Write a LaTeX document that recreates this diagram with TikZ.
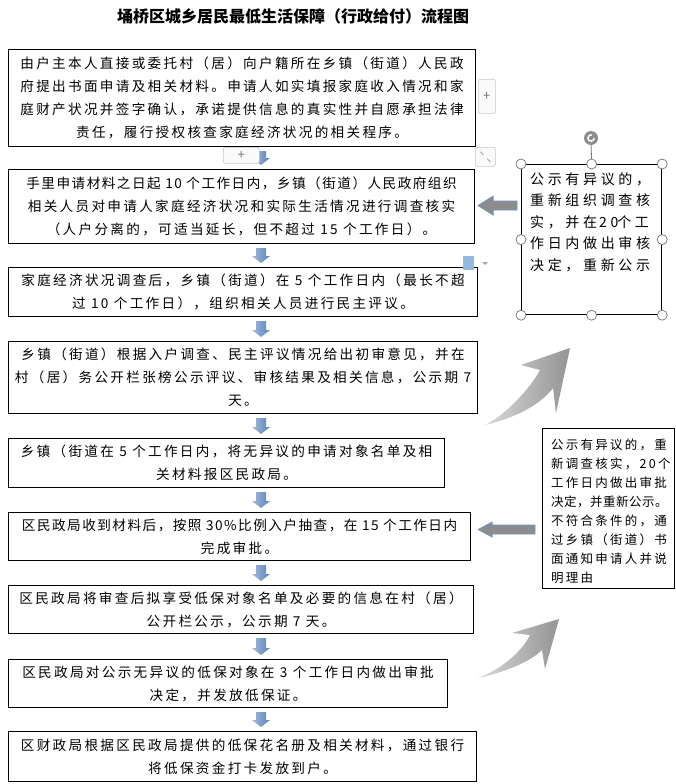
\documentclass[tikz,border=0pt]{standalone}
\usepackage{fontspec}
\setmainfont{Noto Sans CJK SC}
\newfontfamily\cjkmain[LetterSpace=17]{Noto Sans CJK SC}
\newfontfamily\cjktight[LetterSpace=11]{Noto Sans CJK SC}
\newfontfamily\cjkside[LetterSpace=26]{Noto Sans CJK SC}
\newfontfamily\cjksideb[LetterSpace=18]{Noto Sans CJK SC}
\newfontfamily\cjksidec[LetterSpace=4]{Noto Sans CJK SC}
\usetikzlibrary{calc}
\definecolor{arrblue}{RGB}{90,130,188}
\definecolor{arroutline}{RGB}{110,150,200}
\definecolor{uigray}{RGB}{200,200,200}
\definecolor{iconblue}{RGB}{150,185,225}

% blue block arrow pointing down from node #1 to node #2 at x of coordinate ax
\newcommand\blueDown[2]{%
  \shade[downarr] ($(ax |- #1.south)+(-5,4)$) -- ($(ax |- #2.north)+(-5,-11)$) -- ++(-4,0)
    -- ($(ax |- #2.north)+(0,-4)$) -- ($(ax |- #2.north)+(9,-11)$) -- ++(-4,0)
    -- ($(ax |- #1.south)+(5,4)$) -- cycle;}
% gray block arrow pointing left: tail #1, tip #2, head length #3, head half #4, body half #5
\newcommand\grayLeft[5]{%
  \draw[leftarr] ($(#1 |- #2)+(0,-#5)$) -- ($(#2)+(#3,-#5)$) -- ($(#2)+(#3,-#4)$) -- (#2)
    -- ($(#2)+(#3,#4)$) -- ($(#2)+(#3,#5)$) -- ($(#1 |- #2)+(0,#5)$) -- cycle;}

\begin{document}
\begin{tikzpicture}[x=1pt,y=-1pt,
  box/.style={draw, line width=1.1pt, inner sep=0pt, align=center, anchor=north west,
    font=\cjkmain\fontsize{13.6}{23}\selectfont},
  sidebox/.style={draw, line width=1.2pt, inner sep=0pt, anchor=north west},
  sidetext/.style={inner sep=0pt, anchor=north west, align=left},
  downarr/.style={left color=arrblue!55!white, right color=arrblue},
  leftarr/.style={fill=black!45, draw=arroutline, line width=0.8pt},
  curvarr/.style={left color=black!15, right color=black!42},
  handle/.style={circle, draw=black!55, fill=white, line width=0.7pt, minimum size=10pt, inner sep=0pt},
  uibtn/.style={draw=uigray, fill=black!2, rounded corners=2pt, line width=0.7pt, inner sep=0pt,
    anchor=north west, text=black!55, font=\fontsize{13}{13}\selectfont}
]
\useasboundingbox (0,0) rectangle (675,784);
\fill[white] (0,0) rectangle (675,784);

\node[font=\bfseries\fontsize{16}{18}\selectfont] (title) at (293,16) {埇桥区城乡居民最低生活保障（行政给付）流程图};

\coordinate (ax) at (261,0);

\node[box, minimum width=467, minimum height=97] (b1) at (8,49) {由户主本人直接或委托村（居）向户籍所在乡镇（街道）人民政\\府提出书面申请及相关材料。申请人如实填报家庭收入情况和家\\庭财产状况并签字确认，承诺提供信息的真实性并自愿承担法律\\责任，履行授权核查家庭经济状况的相关程序。};
\node[box, minimum width=466, minimum height=74] (b2) at (8,169) {{\cjktight 手里申请材料之日起 10 个工作日内，乡镇（街道）人民政府组织}\\相关人员对申请人家庭经济状况和实际生活情况进行调查核实\\（人户分离的，可适当延长，但不超过 15 个工作日）。};
\node[box, minimum width=469, minimum height=49] (b3) at (8,267) {家庭经济状况调查后，乡镇（街道）在 5 个工作日内（最长不超\\过 10 个工作日），组织相关人员进行民主评议。};
\node[box, minimum width=469, minimum height=72] (b4) at (8,341) {乡镇（街道）根据入户调查、民主评议情况给出初审意见，并在\\村（居）务公开栏张榜公示评议、审核结果及相关信息，公示期 7\\天。};
\node[box, minimum width=436, minimum height=49] (b5) at (8,438) {乡镇（街道在 5 个工作日内，将无异议的申请对象名单及相\\关材料报区民政局。};
\node[box, minimum width=462, minimum height=48] (b6) at (8,512) {{\cjktight 区民政局收到材料后，按照 30\%比例入户抽查，在 15 个工作日内}\\完成审批。};
\node[box, minimum width=465, minimum height=48] (b7) at (8,585) {区民政局将审查后拟享受低保对象名单及必要的信息在村（居）\\公开栏公示，公示期 7 天。};
\node[box, minimum width=439, minimum height=48] (b8) at (8,659) {区民政局对公示无异议的低保对象在 3 个工作日内做出审批\\决定，并发放低保证。};
\node[box, minimum width=468, minimum height=50] (b9) at (8,731) {区财政局根据区民政局提供的低保花名册及相关材料，通过银行\\将低保资金打卡发放到户。};

\blueDown{b1}{b2}
\blueDown{b2}{b3}
\blueDown{b3}{b4}
\blueDown{b4}{b5}
\blueDown{b5}{b6}
\blueDown{b6}{b7}
\blueDown{b7}{b8}
\blueDown{b8}{b9}

% side box A
\node[sidebox, minimum width=140, minimum height=150] (sA) at (521,164) {};
\node[sidetext, font=\cjkside\fontsize{14}{21.5}\selectfont] (sAtext) at (530,172) {公示有异议的，\\重新组织调查核\\实，并在\kern2pt 20\kern-1pt 个工\\作日内做出审核\\决定，重新公示};

% side box B
\node[sidebox, minimum width=132, minimum height=160] (sB) at (542,428) {};
\node[sidetext, font=\cjksideb\fontsize{12.5}{19}\selectfont] (sBtext) at (551,439) {公示有异议的，重\\新调查核实，20个\\工作日内做出审批\\{\cjksidec 决定，并重新公示。}\\不符合条件的，通\\过乡镇（街道）书\\面通知申请人并说\\明理由};

% left pointing arrows
\coordinate (tA) at ($(b2.east)+(3,-1)$);
\coordinate (sAt) at ($(sA.west)+(-4,0)$);
\grayLeft{sAt}{tA}{15}{9.5}{4.5}
\coordinate (tB) at ($(b6.east)+(7,-7)$);
\coordinate (sBt) at ($(sB.west)+(-7,0)$);
\grayLeft{sBt}{tB}{14}{7.5}{4.5}

% curved arrows
\shade[curvarr] (570,348) -- (521,365) -- (540,370) .. controls (532,386) and (506,415) .. (485,425)
  .. controls (515,418) and (540,405) .. (553,388) -- (556,413) -- cycle;
\shade[curvarr] (559,619) -- (512,633) -- (530,635) .. controls (522,652) and (500,670) .. (478,678)
  .. controls (505,672) and (530,662) .. (542,650) -- (545,669) -- cycle;

% selection handles of box A
\coordinate (rot) at (591,138);
\draw[black!55, line width=0.8pt] (rot) -- (sA.north);
\fill[black!45] (rot) circle[radius=7];
\draw[white, line width=1.4pt] ($(rot)+(3.2,0)$) arc[start angle=0, end angle=290, radius=3.2];
\foreach \a/\n in {north west/1, north/2, north east/3, west/4, east/5, south west/6, south/7, south east/8}
  \node[handle] (h\n) at (sA.\a) {};

% editor widgets
\node[uibtn, minimum width=17, minimum height=34] (plusR) at (478,79) {+};
\node[uibtn, minimum width=36, minimum height=16] (plusB) at (223,147) {+};
\node[uibtn, minimum width=20, minimum height=19] (resz) at (475,147) {};
\draw[black!50, line width=0.5pt] ($(resz.center)+(-5,-5)$) -- ($(resz.center)+(-2,-2)$)
  ($(resz.center)+(2,2)$) -- ($(resz.center)+(5,5)$);
\node[fill=iconblue, minimum width=11, minimum height=14, inner sep=0pt, anchor=north west] (paste) at (463,256) {};
\fill[black!35] (482,262) -- (488,262) -- (485,265) -- cycle;
\end{tikzpicture}
\end{document}
